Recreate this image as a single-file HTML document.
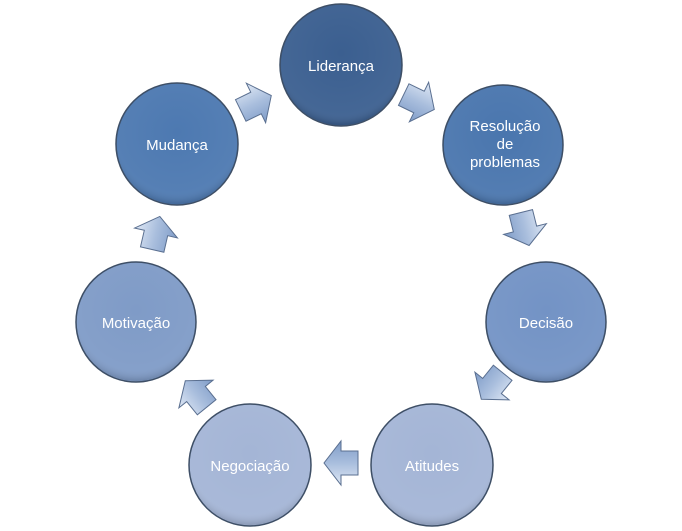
<!DOCTYPE html>
<html><head><meta charset="utf-8"><style>
html,body{margin:0;padding:0;background:#fff}
svg{display:block}
text{font-family:"Liberation Sans",sans-serif;font-size:15px;fill:#fff;text-anchor:middle}
</style></head><body>
<svg width="682" height="531" viewBox="0 0 682 531">
<defs>
<radialGradient id="g" cx="50%" cy="40%" r="60%">
<stop offset="0" stop-color="#fff" stop-opacity="0"/>
<stop offset="0.85" stop-color="#fff" stop-opacity="0.05"/>
<stop offset="1" stop-color="#000" stop-opacity="0.15"/>
</radialGradient>
<linearGradient id="a" x1="0" y1="0" x2="0" y2="1">
<stop offset="0" stop-color="#dfe8f5"/><stop offset="0.5" stop-color="#a9bedd"/><stop offset="1" stop-color="#7f9cc8"/>
</linearGradient>
<g id="arr"><polygon points="-17,-12 0,-12 0,-22 17,0 0,22 0,12 -17,12" fill="url(#a)" stroke="#5a6f90" stroke-width="1"/></g>
</defs>
<g stroke="#3e4f66" stroke-width="1.5">
<circle cx="341" cy="65" r="61" fill="#3b5f90"/>
<circle cx="503" cy="145" r="60" fill="#4a76ae"/>
<circle cx="546" cy="322" r="60" fill="#7393c5"/>
<circle cx="432" cy="465" r="61" fill="#a4b5d6"/>
<circle cx="250" cy="465" r="61" fill="#a4b5d6"/>
<circle cx="136" cy="322" r="60" fill="#7f9bc7"/>
<circle cx="177" cy="144" r="61" fill="#4d79b1"/>
</g>
<g fill="url(#g)">
<circle cx="341" cy="65" r="60"/><circle cx="503" cy="145" r="59"/><circle cx="546" cy="322" r="59"/>
<circle cx="432" cy="465" r="60"/><circle cx="250" cy="465" r="60"/><circle cx="136" cy="322" r="59"/><circle cx="177" cy="144" r="60"/>
</g>
<use href="#arr" transform="translate(256,103) rotate(-26)"/>
<use href="#arr" transform="translate(419,102) rotate(26)"/>
<use href="#arr" transform="translate(525,229) rotate(76)"/>
<use href="#arr" transform="translate(492,386) rotate(129)"/>
<use href="#arr" transform="translate(341,463) rotate(180)"/>
<use href="#arr" transform="translate(196,394) rotate(231)"/>
<use href="#arr" transform="translate(156,233) rotate(-77)"/>
<text x="341" y="71">Liderança</text>
<text x="505" y="131">Resolução</text>
<text x="505" y="149">de</text>
<text x="505" y="167">problemas</text>
<text x="546" y="328">Decisão</text>
<text x="432" y="471">Atitudes</text>
<text x="250" y="471">Negociação</text>
<text x="136" y="328">Motivação</text>
<text x="177" y="150">Mudança</text>
</svg>
</body></html>
